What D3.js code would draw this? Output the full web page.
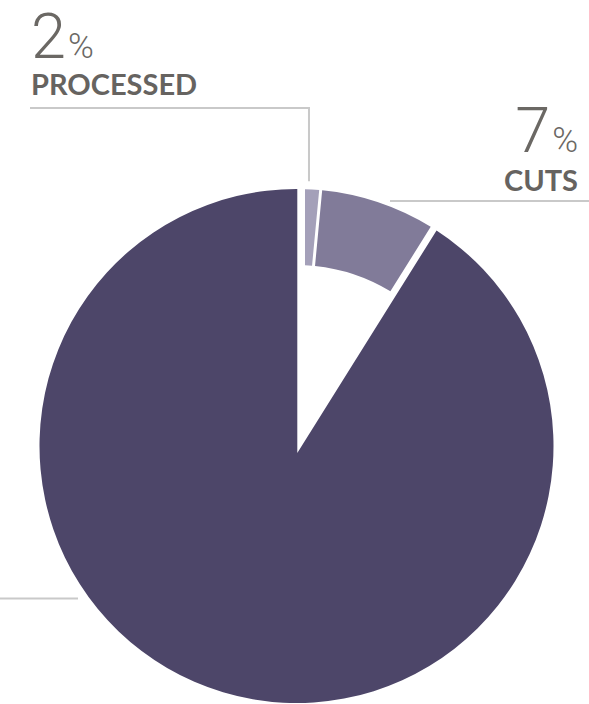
<!DOCTYPE html>
<html><head><meta charset="utf-8">
<script src="https://cdn.jsdelivr.net/npm/d3@7"></script>
<style>
html,body{margin:0;padding:0;background:#fff;}
#wrap{position:relative;width:589px;height:704px;overflow:hidden;}
svg{display:block;position:absolute;left:0;top:0;}
.lbl{position:absolute;white-space:nowrap;}
.num{font-family:Roboto, Lato, sans-serif;font-weight:300;color:#6b6864;font-size:63px;line-height:46px;}
.num span{font-size:35px;margin-left:2px;}
.name{font-family:Lato, 'Open Sans', sans-serif;font-weight:700;color:#666360;font-size:29px;line-height:22px;}
</style>
</head><body>
<div id="wrap"><svg id="chart" width="589" height="704"></svg></div>
<script>
// ---- data ----
const categories = ["PROCESSED", "CUTS", "OTHER"];
const shares = [1.5, 7.4, 91.1];
const colors = ["#a4a0b9", "#817b99", "#4d4669"];
const showLabel = [true, true, false];

// ---- layout ----
const W = 589, H = 704;
const cx = 296.5, cy = 446, R = 257, rIn = 181;
const edgeOffsets = [[8.5, 1.5], [1.5, 2.5]];
const apexShift = [0.8, 7];

const svg = d3.select("#chart");
svg.append("rect").attr("width", W).attr("height", H).attr("fill", "#fff");

const pie = d3.pie().sort(null).value(d => d).startAngle(0).endAngle(2 * Math.PI);
const slices = pie(shares);

function ringSector(a0, a1, d0, d1, r0, r1) {
  const p = d3.path();
  const o0 = a0 + Math.asin(d0 / r1) - Math.PI / 2;
  const o1 = a1 - Math.asin(d1 / r1) - Math.PI / 2;
  const i1 = a1 - Math.asin(d1 / r0) - Math.PI / 2;
  const i0 = a0 + Math.asin(d0 / r0) - Math.PI / 2;
  p.moveTo(cx + r1 * Math.cos(o0), cy + r1 * Math.sin(o0));
  p.arc(cx, cy, r1, o0, o1, false);
  p.lineTo(cx + r0 * Math.cos(i1), cy + r0 * Math.sin(i1));
  p.arc(cx, cy, r0, i1, i0, true);
  p.closePath();
  return p.toString();
}

function mainSector(a0, a1) {
  const ax = cx + apexShift[0], ay = cy + apexShift[1];
  const hit = a => {
    const ux = Math.sin(a), uy = -Math.cos(a);
    const dx = ax - cx, dy = ay - cy;
    const b = dx * ux + dy * uy;
    const c = dx * dx + dy * dy - R * R;
    const t = -b + Math.sqrt(b * b - c);
    const px = ax + t * ux, py = ay + t * uy;
    return [px, py, Math.atan2(py - cy, px - cx)];
  };
  const s = hit(a0), e = hit(a1);
  const p = d3.path();
  p.moveTo(ax, ay);
  p.lineTo(s[0], s[1]);
  p.arc(cx, cy, R, s[2], e[2], false);
  p.closePath();
  return p.toString();
}

slices.forEach((s, i) => {
  const d = i < 2
    ? ringSector(s.startAngle, s.endAngle, edgeOffsets[i][0], edgeOffsets[i][1], rIn, R)
    : mainSector(s.startAngle, s.endAngle);
  svg.append("path").attr("d", d).attr("fill", colors[i]);
});

// ---- leader lines ----
const lineColor = "#c9c9c9";
const midP = (slices[0].startAngle + slices[0].endAngle) / 2;
const xp = cx + (R + 8) * Math.sin(midP), yp = cy - (R + 8) * Math.cos(midP);
svg.append("path")
  .attr("d", `M30,108H${xp}V${yp}`)
  .attr("fill", "none").attr("stroke", lineColor).attr("stroke-width", 2);
svg.append("path")
  .attr("d", `M390,201H${W}`)
  .attr("fill", "none").attr("stroke", lineColor).attr("stroke-width", 2);
svg.append("path")
  .attr("d", `M0,598.5H78`)
  .attr("fill", "none").attr("stroke", lineColor).attr("stroke-width", 2);

// ---- labels (HTML boxes with tight line-height) ----
const fmt = d3.format(".0f");
const wrap = d3.select("#wrap");
// top of each line box: number baseline sits ~44.5px below its box top, name baseline ~22px below
const labelPos = [
  { x: 31, anchor: "start", numTop: 14, nameTop: 73 },
  { x: 578, anchor: "end", numTop: 107.5, nameTop: 169 }
];
labelPos.forEach((lp, i) => {
  if (!showLabel[i]) return;
  const place = sel => lp.anchor === "start"
    ? sel.style("left", lp.x + "px")
    : sel.style("right", (W - lp.x) + "px");
  const n = wrap.append("div").attr("class", "lbl num").style("top", lp.numTop + "px");
  place(n);
  n.append("tspan").text(fmt(shares[i]));
  n.append("span").text("%");
  const m = wrap.append("div").attr("class", "lbl name").style("top", lp.nameTop + "px")
    .text(categories[i]);
  place(m);
});
</script>
</body></html>
